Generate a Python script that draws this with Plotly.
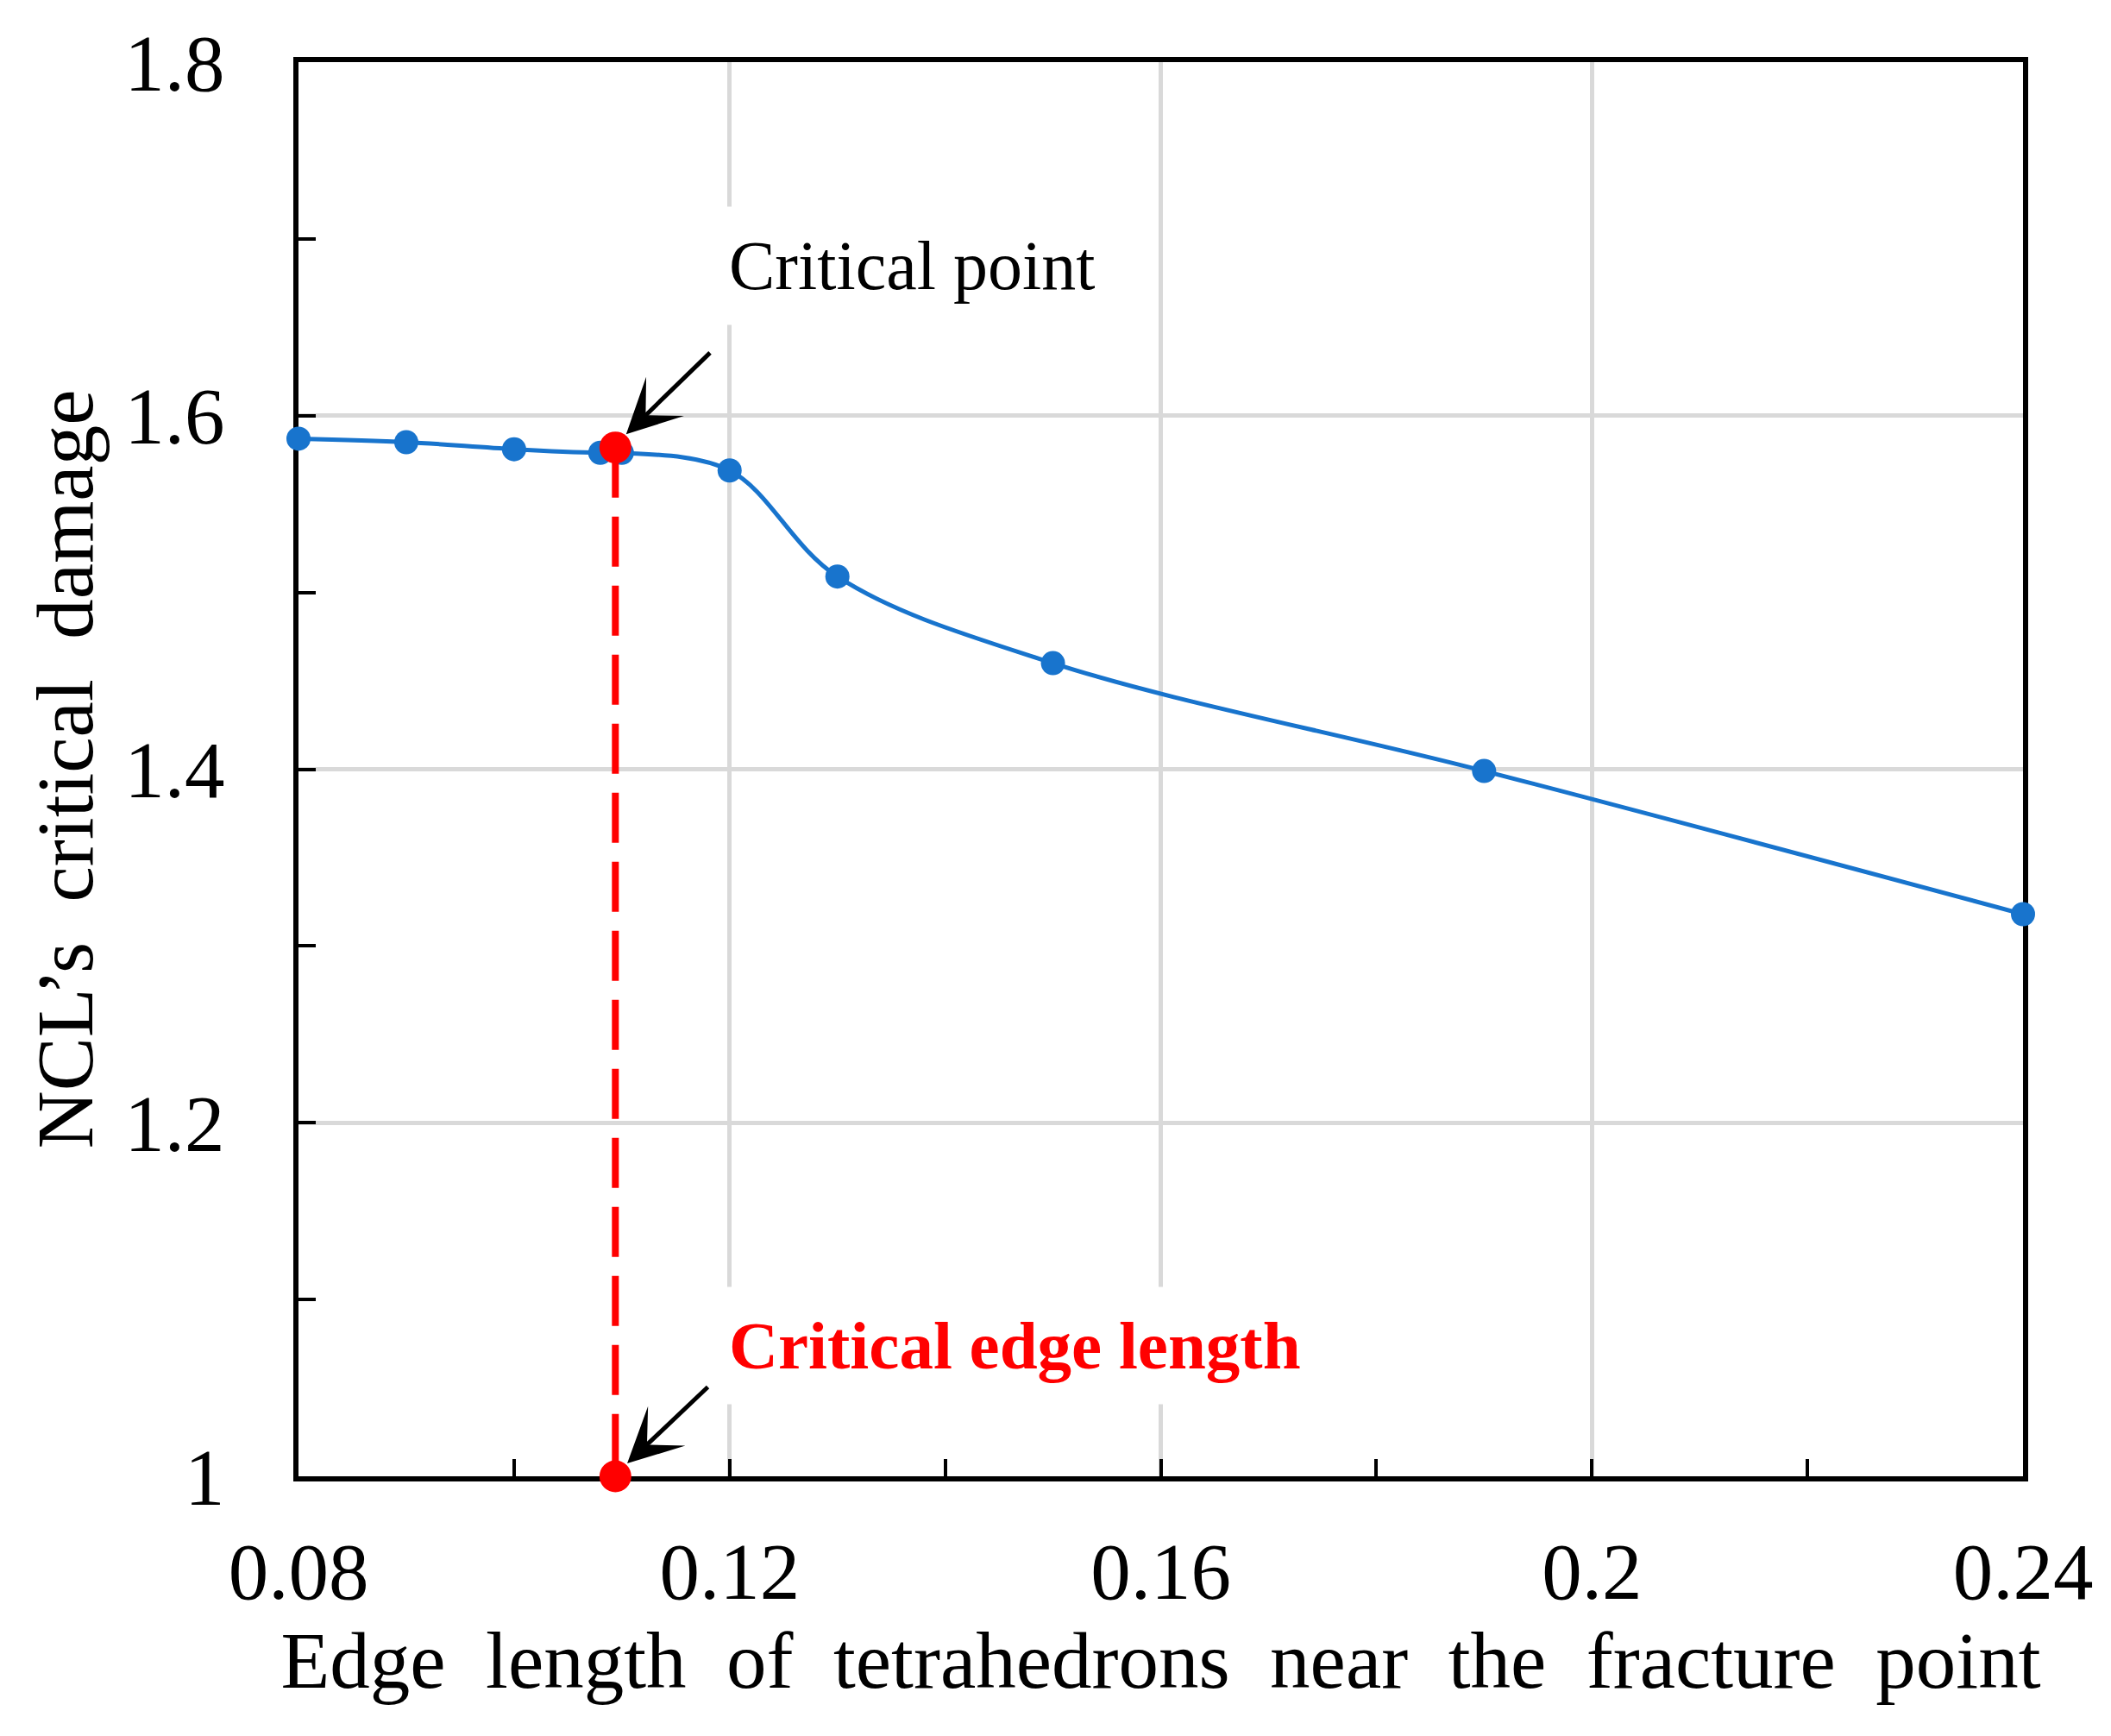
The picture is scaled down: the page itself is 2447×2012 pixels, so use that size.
import plotly.graph_objects as go

# data
edge_length = [0.08, 0.09, 0.10, 0.108, 0.11, 0.12, 0.13, 0.15, 0.19, 0.24]
critical_damage = [1.587, 1.585, 1.581, 1.579, 1.579, 1.569, 1.509, 1.460, 1.399, 1.318]

critical_x = 0.1094
critical_y = 1.582
y_floor = 1.0

x_tickvals = [0.08, 0.12, 0.16, 0.2, 0.24]
x_ticktext = ["0.08", "0.12", "0.16", "0.2", "0.24"]
y_tickvals = [1.0, 1.2, 1.4, 1.6, 1.8]
y_ticktext = ["1", "1.2", "1.4", "1.6", "1.8"]

blue = "#1874CD"
red = "#FF0000"
font = "Liberation Serif"
sp = "\u00a0 "  # wide word gaps as in the original

fig = go.Figure()

# main curve
fig.add_trace(go.Scatter(
    x=edge_length, y=critical_damage,
    mode="lines+markers",
    line=dict(color=blue, width=5, shape="spline", smoothing=1.0),
    marker=dict(color=blue, size=28),
    cliponaxis=False,
    showlegend=False,
))

# dashed drop line to the axis
fig.add_trace(go.Scatter(
    x=[critical_x, critical_x], y=[critical_y, y_floor],
    mode="lines",
    line=dict(color=red, width=8, dash="58px,22px"),
    cliponaxis=False,
    showlegend=False,
))
fig.add_trace(go.Scatter(
    x=[critical_x, critical_x], y=[critical_y, y_floor],
    mode="markers",
    marker=dict(color=red, size=37),
    cliponaxis=False,
    showlegend=False,
))

# labels
fig.add_annotation(
    x=0.12, y=1.682, xref="x", yref="y",
    text="Critical point", showarrow=False,
    xanchor="left", yanchor="middle", xshift=-26, yshift=6,
    bgcolor="white", borderpad=24,
    font=dict(family=font, size=80, color="black"),
)
fig.add_annotation(
    x=0.12, y=1.074, xref="x", yref="y",
    text="<b>Critical edge length</b>", showarrow=False,
    xanchor="left", yanchor="middle", xshift=-26,
    bgcolor="white", borderpad=24,
    font=dict(family=font, size=79, color=red),
)

# arrows (head, tail)
arrows = [((0.1104, 1.5895), (0.1183, 1.6363)),
          ((0.1105, 1.0073), (0.1181, 1.0512))]
for (hx, hy), (tx, ty) in arrows:
    fig.add_annotation(
        x=hx, y=hy, ax=tx, ay=ty,
        xref="x", yref="y", axref="x", ayref="y",
        text="", showarrow=True,
        arrowhead=3, arrowsize=2.1, arrowwidth=5, arrowcolor="black",
        standoff=0,
    )

axis_common = dict(
    showline=True, linecolor="black", linewidth=6, mirror=True,
    ticks="inside", ticklen=20, tickwidth=4, tickcolor="black",
    showgrid=True, gridcolor="#D9D9D9", gridwidth=5,
    zeroline=False, layer="below traces",
    tickfont=dict(family=font, size=93, color="black"),
)

fig.update_xaxes(
    range=[0.08, 0.24], tickvals=x_tickvals, ticktext=x_ticktext,
    minor=dict(ticks="inside", ticklen=20, tickwidth=4, tickcolor="black",
               dtick=0.02, tick0=0.08, showgrid=False),
    ticklabelstandoff=24,
    title=dict(text="Edge" + sp + "length" + sp + "of" + sp + "tetrahedrons" + sp
               + "near" + sp + "the" + sp + "fracture" + sp + "point" + "\u00a0",
               font=dict(family=font, size=93, color="black"), standoff=15),
    **axis_common,
)
fig.update_yaxes(
    range=[1.0, 1.8], tickvals=y_tickvals, ticktext=y_ticktext,
    minor=dict(ticks="inside", ticklen=20, tickwidth=4, tickcolor="black",
               dtick=0.1, tick0=1.0, showgrid=False),
    ticklabelstandoff=61,
    title=dict(text="NCL\u2019s" + sp + "critical" + sp + "damage",
               font=dict(family=font, size=93, color="black"), standoff=8),
    **axis_common,
)

fig.update_layout(
    width=2447, height=2012,
    margin=dict(l=338, r=110, t=64, b=309, autoexpand=False),
    paper_bgcolor="white", plot_bgcolor="white",
    showlegend=False,
)

fig.write_html("out.html")
